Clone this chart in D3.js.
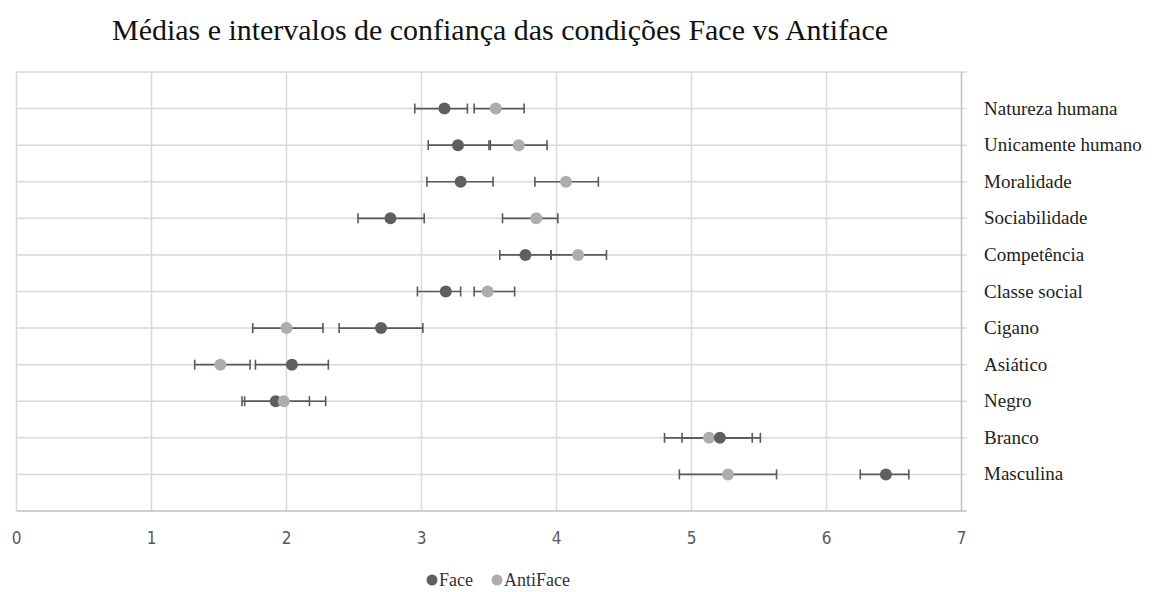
<!DOCTYPE html>
<html lang="pt">
<head>
<meta charset="utf-8">
<title>Médias e intervalos de confiança</title>
<script src="https://cdn.jsdelivr.net/npm/d3@7"></script>
<style>
  body { margin: 0; background: #fff; }
  svg { display: block; }
</style>
</head>
<body>
<script>
// categories from bottom (y=1) to top (y=11)
var categories = ["Masculina", "Branco", "Negro", "Asiático", "Cigano", "Classe social",
                  "Competência", "Sociabilidade", "Moralidade", "Unicamente humano", "Natureza humana"];

// Face: mean, lower, upper
var faceMean  = [6.44, 5.21, 1.92, 2.04, 2.70, 3.18, 3.77, 2.77, 3.29, 3.27, 3.17];
var faceLow   = [6.25, 4.93, 1.67, 1.77, 2.39, 2.97, 3.58, 2.53, 3.04, 3.05, 2.95];
var faceHigh  = [6.61, 5.51, 2.17, 2.31, 3.01, 3.29, 3.96, 3.02, 3.53, 3.50, 3.34];

// AntiFace: mean, lower, upper
var antiMean  = [5.27, 5.13, 1.98, 1.51, 2.00, 3.49, 4.16, 3.85, 4.07, 3.72, 3.55];
var antiLow   = [4.91, 4.80, 1.69, 1.32, 1.75, 3.39, 3.96, 3.60, 3.84, 3.51, 3.39];
var antiHigh  = [5.63, 5.45, 2.29, 1.73, 2.27, 3.69, 4.37, 4.01, 4.31, 3.93, 3.76];

var xTicks = [0, 1, 2, 3, 4, 5, 6, 7];
var seriesNames = ["Face", "AntiFace"];
var seriesColors = ["#5f5f5f", "#adadad"];

var w = 1152, h = 592;
var svg = d3.select("body").append("svg").attr("width", w).attr("height", h);

var x = d3.scaleLinear().domain([0, 7]).range([16.5, 961.5]);
var y = d3.scaleLinear().domain([0, 12]).range([511, 72]);

// title
svg.append("text")
  .attr("x", 500).attr("y", 40)
  .attr("text-anchor", "middle")
  .attr("font-family", "Liberation Serif, serif")
  .attr("font-size", 29)
  .attr("textLength", 776)
  .attr("lengthAdjust", "spacingAndGlyphs")
  .attr("fill", "#111")
  .text("Médias e intervalos de confiança das condições Face vs Antiface");

// vertical grid
svg.append("g").selectAll("line").data(xTicks.slice(0, -1)).enter().append("line")
  .attr("x1", function(d) { return x(d); }).attr("x2", function(d) { return x(d); })
  .attr("y1", y(12)).attr("y2", y(0))
  .attr("stroke", "#d9d9d9").attr("stroke-width", 1.5);

// horizontal grid, running past the right axis as ticks
svg.append("g").selectAll("line").data(d3.range(0, 13)).enter().append("line")
  .attr("x1", x(0)).attr("x2", x(7) + 5)
  .attr("y1", function(d) { return y(d); }).attr("y2", function(d) { return y(d); })
  .attr("stroke", function(d) { return d === 0 ? "#bfbfbf" : "#d9d9d9"; })
  .attr("stroke-width", 1.5);

// right axis line
svg.append("line")
  .attr("x1", x(7)).attr("x2", x(7))
  .attr("y1", y(12)).attr("y2", y(0))
  .attr("stroke", "#bfbfbf").attr("stroke-width", 1.5);

// x tick labels
svg.append("g").selectAll("text").data(xTicks).enter().append("text")
  .attr("x", function(d) { return x(d); })
  .attr("y", 544)
  .attr("text-anchor", "middle")
  .attr("font-family", "DejaVu Sans Condensed, DejaVu Sans, sans-serif")
  .attr("font-size", 17)
  .attr("fill", "#595959")
  .text(function(d) { return d; });

// category labels
svg.append("g").selectAll("text").data(categories).enter().append("text")
  .attr("x", 984)
  .attr("y", function(d, i) { return y(i + 1) + 6; })
  .attr("font-family", "Liberation Serif, serif")
  .attr("font-size", 19)
  .attr("fill", "#222")
  .text(function(d) { return d; });

// rows of points
var rows = categories.map(function(c, i) {
  return [
    { s: 0, row: i + 1, m: faceMean[i], lo: faceLow[i], hi: faceHigh[i] },
    { s: 1, row: i + 1, m: antiMean[i], lo: antiLow[i], hi: antiHigh[i] }
  ];
});

var bars = svg.append("g");
rows.forEach(function(r) {
  r.forEach(function(p) {
    var yy = y(p.row);
    bars.append("line")
      .attr("x1", x(p.lo)).attr("x2", x(p.hi)).attr("y1", yy).attr("y2", yy)
      .attr("stroke", "#595959").attr("stroke-width", 1.6);
    [p.lo, p.hi].forEach(function(v) {
      bars.append("line")
        .attr("x1", x(v)).attr("x2", x(v)).attr("y1", yy - 5).attr("y2", yy + 5)
        .attr("stroke", "#595959").attr("stroke-width", 1.6);
    });
  });
});

var dots = svg.append("g");
rows.forEach(function(r) {
  r.slice().sort(function(a, b) { return a.m - b.m; }).forEach(function(p) {
    dots.append("circle")
      .attr("cx", x(p.m)).attr("cy", y(p.row)).attr("r", 6)
      .attr("fill", seriesColors[p.s]);
  });
});

// legend
var legendX = [432, 497];
var lg = svg.append("g");
seriesNames.forEach(function(n, i) {
  lg.append("circle").attr("cx", legendX[i]).attr("cy", 580).attr("r", 5.5)
    .attr("fill", seriesColors[i]);
  lg.append("text").attr("x", legendX[i] + 7).attr("y", 586)
    .attr("font-family", "Liberation Serif, serif")
    .attr("font-size", 18)
    .attr("fill", "#333")
    .text(n);
});
</script>
</body>
</html>
